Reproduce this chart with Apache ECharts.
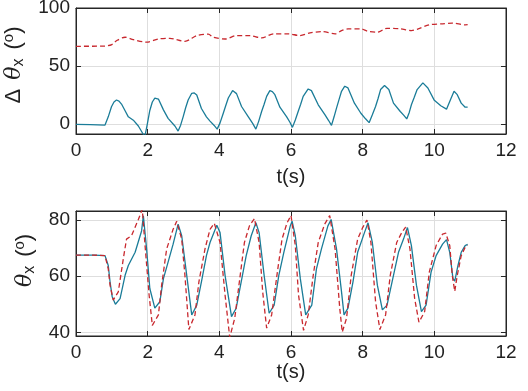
<!DOCTYPE html>
<html>
<head>
<meta charset="utf-8">
<script src="https://cdn.jsdelivr.net/npm/echarts@6/dist/echarts.min.js"></script>
<style>html,body{margin:0;padding:0;background:#fff;}#c{width:528px;height:391px;}</style>
</head>
<body>
<div id="c"></div>
<script>
// ---- data (t in seconds, angle in degrees) ----
const xTicks = [0, 2, 4, 6, 8, 10, 12];
const topYTicks = [0, 50, 100];
const botYTicks = [40, 60, 80];

// top panel: Δθx, solid (teal)
const topSolid = [[0,-0.3],[0.4,-0.5],[0.81,-0.9],[0.9,6.2],[0.99,14.9],[1.06,19],[1.13,20.7],[1.2,19.8],[1.27,17.2],[1.37,11.4],[1.46,6.2],[1.6,3.3],[1.74,-1.7],[1.88,-9],[1.92,-11],[1.99,0],[2.06,11.7],[2.13,19],[2.2,22.4],[2.3,21.5],[2.44,12.2],[2.57,4.9],[2.76,-1.7],[2.85,-6.1],[2.92,-1],[2.99,6.2],[3.06,14],[3.13,20.7],[3.23,26.5],[3.3,26.8],[3.37,25],[3.5,13.4],[3.64,6.2],[3.74,2.5],[3.85,-1],[3.94,-4.4],[4.02,1],[4.11,9.3],[4.18,16],[4.25,22.4],[4.37,28.8],[4.48,26.2],[4.62,15.1],[4.81,6.2],[4.93,0.5],[5.02,-4.4],[5.1,2.5],[5.18,10.8],[5.25,17],[5.32,23.8],[5.41,28.8],[5.48,28],[5.55,25.3],[5.69,14.5],[5.88,6.2],[5.97,1.5],[6.04,-2.9],[6.12,3.5],[6.2,10.8],[6.27,17],[6.34,23.8],[6.48,30.2],[6.57,28.8],[6.76,16.6],[6.95,7.9],[7.05,3],[7.13,-1.2],[7.2,6],[7.27,13.7],[7.34,21],[7.41,28.2],[7.5,32.6],[7.59,31.1],[7.77,18],[7.95,9.3],[8.08,4.5],[8.18,1.2],[8.27,8],[8.36,15.1],[8.43,22],[8.5,29.7],[8.61,33.2],[8.73,29.7],[8.86,18],[9.05,10.8],[9.15,7.5],[9.23,4.4],[9.3,10],[9.36,16.6],[9.44,23],[9.52,29.7],[9.68,35.5],[9.82,31.1],[10.0,20.4],[10.18,15.7],[10.34,12.8],[10.45,21],[10.55,28.2],[10.64,25.3],[10.75,18],[10.86,14.5],[10.93,14.6]];

// top panel: dashed (red)
const topDashed = [[0,67],[0.81,67.2],[1.0,68.5],[1.13,71.8],[1.37,74.8],[1.6,72.7],[1.97,70.6],[2.3,73.3],[2.62,73.9],[3.04,71.3],[3.37,76.2],[3.69,77.5],[3.83,74.8],[4.16,73.3],[4.48,76.2],[4.86,76.2],[5.18,74.2],[5.51,77.7],[5.93,77.7],[6.25,76.2],[6.53,78.5],[6.86,79.7],[7.23,77.7],[7.41,80.5],[7.59,82],[7.95,82],[8.14,80],[8.41,79.1],[8.68,82.5],[9.05,82],[9.36,80.5],[9.55,82],[9.86,85.5],[10.23,86.4],[10.5,87],[10.86,85.5],[10.93,85.6]];

// bottom panel: θx, solid (teal)
const botSolid = [[0,67.5],[0.5,67.5],[0.81,67.3],[0.9,63.8],[0.95,58],[1.01,52.7],[1.1,50],[1.23,52],[1.37,60.3],[1.46,63.8],[1.65,68.5],[1.83,76.1],[1.88,81.5],[1.97,69.7],[2.06,55.6],[2.2,48.6],[2.34,50.9],[2.44,59.1],[2.57,65],[2.71,71.4],[2.85,78.5],[2.95,74.4],[3.09,60.3],[3.23,46.2],[3.37,49.7],[3.5,58],[3.64,67.3],[3.74,72],[3.93,78.1],[4.02,75.5],[4.16,60.3],[4.34,45.6],[4.47,48.6],[4.61,58],[4.75,67.3],[4.89,74.4],[5.02,79],[5.11,75.5],[5.25,60.3],[5.39,46.8],[5.53,49.7],[5.66,60.3],[5.8,68.5],[5.98,77.9],[6.03,79.6],[6.12,74.4],[6.26,59.1],[6.41,46.2],[6.58,49.7],[6.71,62.6],[6.85,69.7],[7.03,77.9],[7.12,80.2],[7.27,69.7],[7.41,54.4],[7.48,46.2],[7.59,48.6],[7.73,58],[7.86,68.5],[8.05,75.5],[8.15,79],[8.27,72],[8.41,56.8],[8.55,48],[8.68,49.7],[8.86,60.3],[9.0,68.5],[9.14,73.2],[9.25,77.3],[9.36,70.9],[9.5,56.8],[9.64,47.4],[9.77,49.7],[9.91,61.5],[10.05,67.3],[10.23,71.4],[10.34,73],[10.43,68.5],[10.52,59.1],[10.57,58.2],[10.66,63.8],[10.75,68.5],[10.86,70.9],[10.93,71.3]];

// bottom panel: dashed (red)
const botDashed = [[0,67.5],[0.5,67.5],[0.81,67.3],[0.9,62.6],[0.95,56.8],[1.04,51.5],[1.18,54.4],[1.32,66.2],[1.41,73.2],[1.55,74.4],[1.74,80.2],[1.85,83.8],[1.92,72],[2.04,53.3],[2.13,42.5],[2.16,42.7],[2.3,46.2],[2.39,56.8],[2.53,69.7],[2.71,76.7],[2.81,79.5],[2.95,73.2],[3.04,60.3],[3.15,41],[3.18,40.9],[3.32,46.2],[3.43,58],[3.6,69.7],[3.74,76.7],[3.86,78.8],[4.02,72],[4.16,53.3],[4.29,38.2],[4.43,45],[4.57,59.1],[4.7,72],[4.84,77.9],[4.98,80.5],[5.11,72],[5.21,54.4],[5.32,41.5],[5.46,46.2],[5.62,61.5],[5.75,73.2],[5.89,79],[6.0,81.6],[6.12,70.9],[6.21,53.3],[6.35,40.7],[6.48,46.2],[6.62,60.3],[6.76,72],[6.94,78.5],[7.08,81.6],[7.23,69.7],[7.36,48.6],[7.43,40.1],[7.55,45],[7.68,60.3],[7.86,73.2],[8.0,77.3],[8.12,80],[8.23,72],[8.36,50.9],[8.48,41],[8.64,46.2],[8.77,60.3],[8.95,72],[9.09,75.5],[9.2,77.5],[9.32,69.7],[9.45,52.1],[9.57,43.6],[9.73,47.4],[9.86,61.5],[10.05,70.9],[10.23,75],[10.32,75.3],[10.43,70.9],[10.5,60.3],[10.57,54.6],[10.64,60.3],[10.75,67.3],[10.86,70.3],[10.93,71]];

// ---- styling ----
const FONT = 'Liberation Sans, Arial, sans-serif';
const FRAME = '#262626';
const GRIDC = '#dedede';
const BLUE = '#1a7c98';
const RED = '#c8282e';

const rich = {
  g1: {fontSize: 22, fontFamily: FONT, lineHeight: 30, width: 12, verticalAlign: 'middle'},
  g2: {fontSize: 22, fontFamily: FONT, lineHeight: 30, width: 26, verticalAlign: 'middle'},
  n: {fontSize: 22, fontFamily: FONT, color: '#222', lineHeight: 30, verticalAlign: 'middle'},
  sp: {fontSize: 22, fontFamily: FONT, color: '#222', lineHeight: 30, width: 9, verticalAlign: 'middle'},
  th: {fontSize: 22, fontFamily: 'DejaVu Serif, serif', fontStyle: 'italic', color: '#222', lineHeight: 30, verticalAlign: 'middle'},
  sub: {fontSize: 16, fontFamily: FONT, color: '#222', lineHeight: 14, padding: [9, 0, 0, 0], verticalAlign: 'middle'},
  sup: {fontSize: 15, fontFamily: FONT, color: '#222', lineHeight: 14, padding: [0, 0, 11, 0], verticalAlign: 'middle'}
};

function xMain(gi, gap) {
  return {
    type: 'value', gridIndex: gi, position: 'bottom', min: 0, max: 12, interval: 2,
    name: 't(s)', nameLocation: 'middle', nameGap: gap,
    nameTextStyle: {fontSize: 20, fontFamily: FONT, color: '#222'},
    axisLine: {show: true, onZero: false, lineStyle: {color: FRAME, width: 1}},
    axisTick: {show: true, inside: true, length: 5, lineStyle: {color: FRAME}},
    axisLabel: {show: true, fontSize: 19, fontFamily: FONT, color: '#222', margin: 7,
      formatter: v => (xTicks.indexOf(v) >= 0 ? String(v) : '')},
    splitLine: {show: true, lineStyle: {color: GRIDC, width: 1}}
  };
}
function xTop(gi) {
  return {
    type: 'value', gridIndex: gi, position: 'top', min: 0, max: 12, interval: 2,
    axisLine: {show: true, onZero: false, lineStyle: {color: FRAME, width: 1}},
    axisTick: {show: true, inside: true, length: 5, lineStyle: {color: FRAME}},
    axisLabel: {show: false}, splitLine: {show: false}
  };
}
function yMain(gi, mn, mx, ticks, name, gap) {
  return {
    type: 'value', gridIndex: gi, position: 'left', min: mn, max: mx, splitNumber: 2,
    name: name, nameLocation: 'middle', nameGap: gap, nameRotate: 90,
    nameTextStyle: {rich: rich},
    axisLine: {show: true, onZero: false, lineStyle: {color: FRAME, width: 1}},
    axisTick: {show: true, inside: true, length: 5, lineStyle: {color: FRAME}},
    axisLabel: {show: true, fontSize: 19, fontFamily: FONT, color: '#222', margin: 6,
      showMinLabel: true, showMaxLabel: true,
      formatter: v => (ticks.indexOf(v) >= 0 ? String(v) : '')},
    splitLine: {show: true, lineStyle: {color: GRIDC, width: 1}}
  };
}
function yRight(gi, mn, mx) {
  return {
    type: 'value', gridIndex: gi, position: 'right', min: mn, max: mx, splitNumber: 2,
    axisLine: {show: true, onZero: false, lineStyle: {color: FRAME, width: 1}},
    axisTick: {show: true, inside: true, length: 5, lineStyle: {color: FRAME}},
    axisLabel: {show: false}, splitLine: {show: false}
  };
}

const chart = echarts.init(document.getElementById('c'), null, {renderer: 'canvas'});
chart.setOption({
  animation: false,
  backgroundColor: '#fff',
  grid: [
    {left: 76, right: 22, top: 8, height: 126, show: true, borderColor: FRAME, borderWidth: 1, backgroundColor: 'transparent', containLabel: false, outerBoundsMode: 'none'},
    {left: 76, right: 22, top: 211, height: 125, show: true, borderColor: FRAME, borderWidth: 1, backgroundColor: 'transparent', containLabel: false, outerBoundsMode: 'none'}
  ],
  xAxis: [xMain(0, 33), xTop(0), xMain(1, 25), xTop(1)],
  yAxis: [
    yMain(0, -8.6, 100, topYTicks, '{g1| }{n|Δ}{sp| }{th|θ}{sub|x}{sp| }{n|(}{sup|o}{n|)}', 38),
    yRight(0, -8.6, 100),
    yMain(1, 38.7, 83.2, botYTicks, '{g2| }{th|θ}{sub|x}{sp| }{n|(}{sup|o}{n|)}', 34),
    yRight(1, 38.7, 83.2)
  ],
  series: [
    {type: 'line', xAxisIndex: 1, yAxisIndex: 1, data: [], showSymbol: false, silent: true},
    {type: 'line', xAxisIndex: 3, yAxisIndex: 3, data: [], showSymbol: false, silent: true},
    {type: 'line', xAxisIndex: 0, yAxisIndex: 0, data: topDashed, showSymbol: false, smooth: 0.3,
      lineStyle: {color: RED, width: 1.3, type: [5, 3]}, z: 3},
    {type: 'line', xAxisIndex: 0, yAxisIndex: 0, data: topSolid, showSymbol: false,
      lineStyle: {color: BLUE, width: 1.3}, z: 4},
    {type: 'line', xAxisIndex: 2, yAxisIndex: 2, data: botSolid, showSymbol: false,
      lineStyle: {color: BLUE, width: 1.3}, z: 3},
    {type: 'line', xAxisIndex: 2, yAxisIndex: 2, data: botDashed, showSymbol: false,
      lineStyle: {color: RED, width: 1.3, type: [5, 3]}, z: 4}
  ]
});
</script>
</body>
</html>
